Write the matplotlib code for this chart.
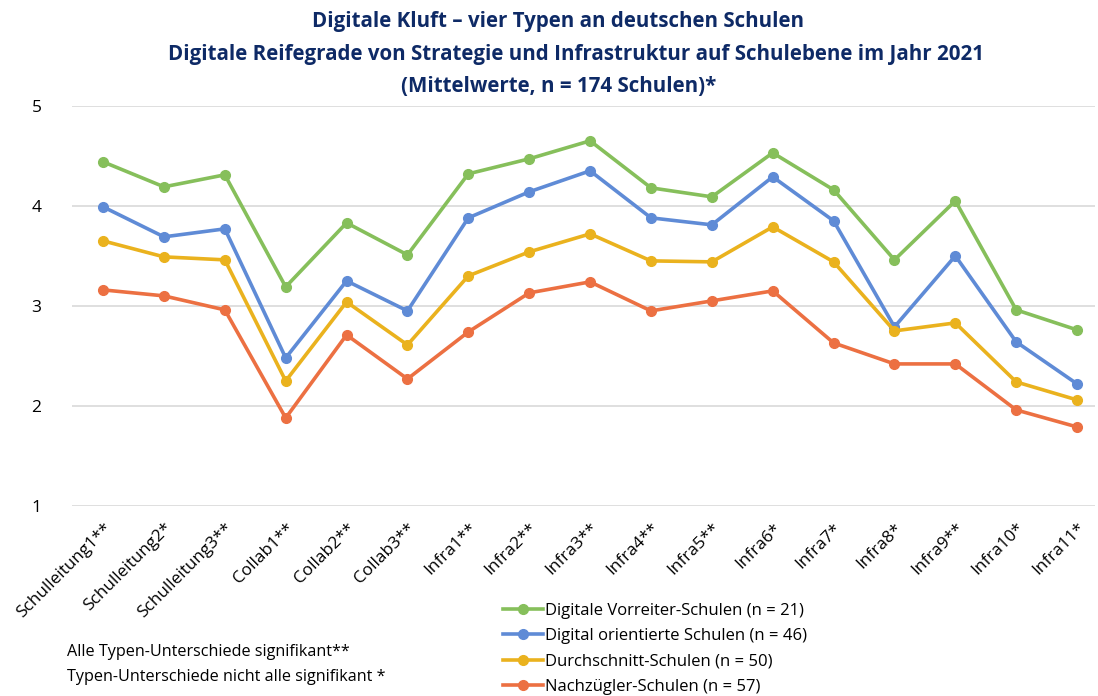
import matplotlib
import numpy as np
import matplotlib.pyplot as plt

matplotlib.use('Agg')
plt.rcParams['font.family'] = ['Open Sans', 'DejaVu Sans']

categories = ['Schulleitung1**', 'Schulleitung2*', 'Schulleitung3**', 'Collab1**', 'Collab2**',
              'Collab3**', 'Infra1**', 'Infra2**', 'Infra3**', 'Infra4**', 'Infra5**', 'Infra6*',
              'Infra7*', 'Infra8*', 'Infra9**', 'Infra10*', 'Infra11*']

vorreiter = [4.44, 4.19, 4.31, 3.19, 3.83, 3.51, 4.32, 4.47, 4.65, 4.18, 4.09, 4.53, 4.16, 3.46, 4.05, 2.96, 2.76]
orientiert = [3.99, 3.69, 3.77, 2.48, 3.25, 2.95, 3.88, 4.14, 4.35, 3.88, 3.81, 4.29, 3.85, 2.79, 3.50, 2.64, 2.22]
durchschnitt = [3.65, 3.49, 3.46, 2.25, 3.04, 2.61, 3.30, 3.54, 3.72, 3.45, 3.44, 3.79, 3.44, 2.75, 2.83, 2.24, 2.06]
nachzuegler = [3.16, 3.10, 2.96, 1.88, 2.71, 2.27, 2.74, 3.13, 3.24, 2.95, 3.05, 3.15, 2.63, 2.42, 2.42, 1.96, 1.79]

series_names = ['Digitale Vorreiter-Schulen (n = 21)', 'Digital orientierte Schulen (n = 46)',
                'Durchschnitt-Schulen (n = 50)', 'Nachzügler-Schulen (n = 57)']
colors = ['#86BF5B', '#5F8BD6', '#EAB21E', '#EC7042']

fig = plt.figure(figsize=(10.98, 6.96), dpi=100)
ax = fig.add_axes([0.0656, 0.273, 0.932, 0.575])

x = np.arange(len(categories))
handles = []
for vals, name, c in zip([vorreiter, orientiert, durchschnitt, nachzuegler], series_names, colors):
    h, = ax.plot(x, vals, color=c, lw=2.6, marker='o', ms=7, label=name, zorder=3)
    handles.append(h)

ax.set_ylim(1, 5)
ax.set_yticks([1, 2, 3, 4, 5])
ax.set_xlim(-0.51, 16.3)
ax.set_xticks(x)
ax.set_xticklabels(categories, rotation=45, ha='right', rotation_mode='anchor', fontsize=12.3)
ax.tick_params(axis='x', length=0, pad=10)
ax.tick_params(axis='y', length=0, pad=22, labelsize=12.5)
ax.grid(axis='y', color='#D9D9D9', lw=1.2)
ax.set_axisbelow(True)
for s in ax.spines.values():
    s.set_visible(False)

title_color = '#0E2A66'
fig.text(0.508, 0.969, 'Digitale Kluft – vier Typen an deutschen Schulen', ha='center', va='center',
         fontsize=14.8, fontweight='bold', color=title_color)
fig.text(0.525, 0.922, 'Digitale Reifegrade von Strategie und Infrastruktur auf Schulebene im Jahr 2021',
         ha='center', va='center', fontsize=14.8, fontweight='bold', color=title_color)
fig.text(0.509, 0.875, '(Mittelwerte, n = 174 Schulen)*', ha='center', va='center',
         fontsize=14.8, fontweight='bold', color=title_color)

fig.legend(handles=handles, loc='upper left', bbox_to_anchor=(0.452, 0.143),
           frameon=False, fontsize=12, handlelength=2.4, handletextpad=0.1,
           labelspacing=0.55, borderaxespad=0)

fig.text(0.061, 0.063, 'Alle Typen-Unterschiede signifikant**', fontsize=11.6, va='center')
fig.text(0.061, 0.028, 'Typen-Unterschiede nicht alle signifikant *', fontsize=11.6, va='center')

fig.savefig('out.png', dpi=100)
